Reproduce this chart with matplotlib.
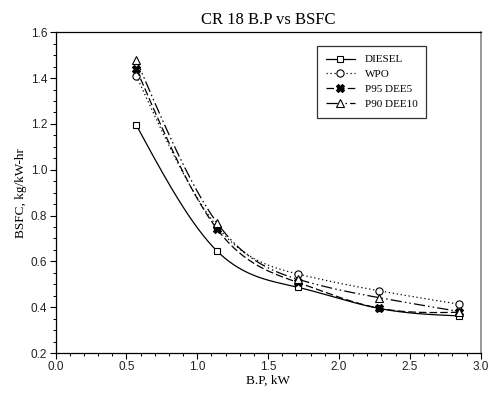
import numpy as np
import matplotlib
matplotlib.use("Agg")
import matplotlib.pyplot as plt
from matplotlib.ticker import MultipleLocator

bp = [0.57, 1.14, 1.71, 2.28, 2.85]
diesel = [1.195, 0.645, 0.487, 0.395, 0.362]
wpo = [1.41, 0.752, 0.545, 0.472, 0.413]
p95_dee5 = [1.44, 0.741, 0.508, 0.396, 0.378]
p90_dee10 = [1.48, 0.768, 0.522, 0.442, 0.381]

series = [
    ("DIESEL", diesel, "-", "s", dict(mfc="white", mec="black", ms=5)),
    ("WPO", wpo, (0, (1, 2.2)), "o", dict(mfc="white", mec="black", ms=5.2)),
    ("P95 DEE5", p95_dee5, (0, (6, 2.5)), "X", dict(mfc="black", mec="black", ms=5.5)),
    ("P90 DEE10", p90_dee10, (0, (9, 2.5, 1.2, 2.5, 1.2, 2.5)), "^", dict(mfc="white", mec="black", ms=5.8)),
]


def natural_spline(x, y, n=200):
    x = np.asarray(x, float)
    y = np.asarray(y, float)
    k = len(x)
    h = np.diff(x)
    A = np.zeros((k, k))
    b = np.zeros(k)
    A[0, 0] = 1
    A[-1, -1] = 1
    for i in range(1, k - 1):
        A[i, i - 1] = h[i - 1]
        A[i, i] = 2 * (h[i - 1] + h[i])
        A[i, i + 1] = h[i]
        b[i] = 6 * ((y[i + 1] - y[i]) / h[i] - (y[i] - y[i - 1]) / h[i - 1])
    M = np.linalg.solve(A, b)
    xs = np.linspace(x[0], x[-1], n)
    ys = np.empty_like(xs)
    for j, t in enumerate(xs):
        i = min(np.searchsorted(x, t, side="right") - 1, k - 2)
        dx1 = x[i + 1] - t
        dx0 = t - x[i]
        ys[j] = (M[i] * dx1 ** 3 / (6 * h[i]) + M[i + 1] * dx0 ** 3 / (6 * h[i])
                 + (y[i] / h[i] - M[i] * h[i] / 6) * dx1
                 + (y[i + 1] / h[i] - M[i + 1] * h[i] / 6) * dx0)
    return xs, ys


fig = plt.figure(figsize=(4.9, 3.94), dpi=100)
ax = fig.add_axes([0.1133, 0.104, 0.8677, 0.814])

serif = "Liberation Serif"
sans = "Liberation Sans"

handles = []
for name, vals, ls, mk, mkw in series:
    xs, ys = natural_spline(bp, vals)
    ax.plot(xs, ys, color="black", lw=0.9, ls=ls)
    ax.plot(bp, vals, ls="none", marker=mk, mew=0.8, **mkw)
    h, = ax.plot([], [], color="black", lw=0.9, ls=ls, marker=mk, mew=0.8, **mkw)
    handles.append(h)

ax.set_xlim(0, 3.0)
ax.set_ylim(0.2, 1.6)
ax.xaxis.set_minor_locator(MultipleLocator(0.1))
ax.yaxis.set_minor_locator(MultipleLocator(0.05))
ax.set_xticks(np.arange(0, 3.01, 0.5))
ax.set_xticklabels([f"{v:.1f}" for v in np.arange(0, 3.01, 0.5)])
ax.set_yticks(np.arange(0.2, 1.61, 0.2))
ax.set_yticklabels([f"{v:.1f}" for v in np.arange(0.2, 1.61, 0.2)])
ax.tick_params(which="major", direction="out", length=4, width=0.8, labelsize=8.5, pad=2)
ax.tick_params(which="minor", direction="out", length=2.5, width=0.7)
for lab in ax.get_xticklabels() + ax.get_yticklabels():
    lab.set_family(sans)
    lab.set_color("#222222")

ax.spines["right"].set_color("#888888")
ax.spines["right"].set_linewidth(1.2)
for s in ["left", "bottom", "top"]:
    ax.spines[s].set_linewidth(0.9)

ax.set_xlabel("B.P, kW", family=serif, fontsize=9.5, labelpad=1)
ax.set_ylabel("BSFC, kg/kW-hr", family=serif, fontsize=9.5, labelpad=3)
ax.set_title("CR 18 B.P vs BSFC", family=serif, fontsize=12, pad=6)

leg = ax.legend(handles, [s[0] for s in series], loc="upper left",
                bbox_to_anchor=(0.615, 0.958), frameon=True, fancybox=False,
                edgecolor="black", prop={"family": serif, "size": 8},
                handlelength=2.6, handletextpad=0.9, labelspacing=0.45,
                borderpad=0.8, borderaxespad=0)
leg.get_frame().set_linewidth(0.9)

fig.savefig("out.png", dpi=100)
